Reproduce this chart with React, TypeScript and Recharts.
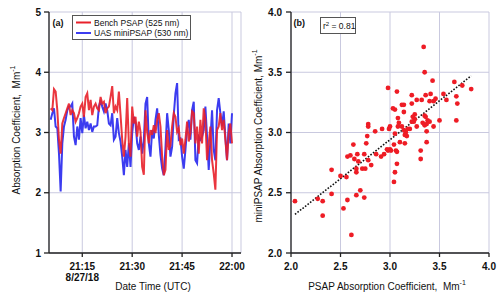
import { LineChart, Line, ScatterChart, Scatter, XAxis, YAxis, CartesianGrid, ReferenceLine } from "recharts"

// minutes after 21:00 UTC, 8/27/18
const minutes = [
  5.5, 6, 6.5, 7, 7.5, 8, 8.5, 9, 9.5, 10, 10.5, 11, 11.5, 12, 12.5, 13, 13.5, 14, 14.5, 15, 15.5, 16, 16.5, 17, 17.5, 18, 18.5, 19, 19.5,
  20, 20.5, 21, 21.5, 22, 22.5, 23, 23.5, 24, 24.5, 25, 25.5, 26, 26.5, 27, 27.5, 28, 28.5, 29, 29.5, 30, 30.5, 31, 31.5, 32, 32.5, 33, 33.5, 34,
  34.5, 35, 35.5, 36, 36.5, 37, 37.5, 38, 38.5, 39, 39.5, 40, 40.5, 41, 41.5, 42, 42.5, 43, 43.5, 44, 44.5, 45, 45.5, 46, 46.5, 47, 47.5, 48, 48.5,
  49, 49.5, 50, 50.5, 51, 51.5, 52, 52.5, 53, 53.5, 54, 54.5, 55, 55.5, 56, 56.5, 57, 57.5, 58, 58.5, 59, 59.5, 60,
]

const benchPsap = [
  3.40, 3.37, 3.72, 3.68, 3.37, 2.88, 2.65, 3.15, 3.24, 3.32, 3.40, 3.48, 3.29, 3.37, 3.32, 3.18, 3.24, 3.32, 3.43, 3.48, 3.26, 3.59, 3.65, 3.37, 3.54, 3.29, 3.43, 3.48, 3.40,
  3.37, 3.59, 3.48, 3.51, 3.32, 3.40, 3.43, 3.59, 3.77, 3.32, 3.43, 3.37, 3.68, 3.29, 2.88, 2.60, 2.93, 3.57, 2.82, 2.60, 3.43, 3.15, 3.26, 2.93, 3.18, 3.01, 2.43, 2.30, 3.37,
  3.01, 2.82, 3.04, 2.96, 3.12, 2.99, 3.21, 3.32, 3.10, 2.60, 2.29, 2.38, 3.04, 2.71, 2.79, 3.10, 3.32, 3.26, 3.01, 3.07, 2.79, 2.90, 2.65, 2.88, 3.18, 2.85, 2.99, 3.35, 3.32,
  2.82, 3.10, 2.65, 3.21, 2.82, 3.40, 3.21, 2.54, 2.82, 3.10, 2.54, 2.32, 2.05, 3.04, 3.10, 3.32, 3.04, 3.21, 2.88, 2.54, 2.99, 3.15, 2.82,
]

const uasMiniPsap = [
  3.21, 3.32, 3.40, 3.10, 3.07, 2.65, 2.02, 2.82, 3.10, 3.21, 3.37, 3.43, 3.43, 3.48, 2.93, 2.79, 3.10, 2.88, 3.24, 2.99, 3.29, 3.07, 3.18, 3.04, 3.15, 3.01, 3.10, 3.10, 3.12,
  3.43, 3.54, 3.43, 3.35, 3.48, 3.37, 3.15, 3.12, 3.32, 2.88, 2.93, 3.24, 2.99, 2.85, 2.60, 2.29, 2.71, 2.43, 2.82, 2.43, 2.99, 3.26, 3.15, 2.82, 2.71, 2.93, 2.65, 2.88, 3.48,
  3.59, 2.82, 2.60, 3.04, 2.90, 3.21, 3.40, 2.96, 2.63, 2.40, 2.29, 2.74, 3.32, 3.04, 2.60, 2.76, 3.29, 3.65, 3.82, 2.88, 2.90, 2.60, 2.40, 2.71, 3.07, 3.21, 2.88, 3.37, 3.51,
  2.54, 2.49, 2.93, 2.88, 2.93, 3.04, 3.43, 2.93, 2.38, 2.88, 3.37, 2.71, 2.54, 3.37, 3.57, 3.32, 3.10, 3.35, 2.93, 2.54, 3.15, 2.82, 3.32,
]

const timeTicks = [15, 30, 45, 60]
const timeTickLabels = ["21:15", "21:30", "21:45", "22:00"]
const dateLabel = "8/27/18"

// panel (b): PSAP vs miniPSAP
const scatterPsap = [
  3.34, 3.35, 3.43, 3.65, 3.73, 3.82, 3.67, 3.68, 3.67, 2.98, 3.07, 3.22, 3.32, 3.27, 3.36, 3.41, 3.40, 3.44, 3.46, 3.54,
  3.57, 3.50, 3.44, 3.37, 3.37, 3.03, 3.05, 3.12, 3.14, 3.22, 3.14, 3.08, 3.09, 3.25, 3.23, 3.25, 3.22, 3.24, 3.35, 3.36,
  3.38, 3.40, 3.33, 3.35, 3.37, 3.00, 2.99, 2.92, 3.08, 3.12, 3.14, 3.16, 3.18, 3.20, 3.05, 3.15, 3.17, 3.10, 3.15, 3.04,
  3.27, 2.78, 2.78, 2.85, 2.77, 2.63, 2.76, 2.04, 2.32, 2.27, 2.32, 2.41, 2.41, 2.50, 2.56, 2.53, 2.57, 2.61, 2.66, 2.70,
  2.74, 2.57, 2.60, 2.67, 2.74, 2.64, 2.66, 2.66, 2.68, 2.72, 2.75, 2.78, 2.81, 2.86, 2.91, 2.94, 2.97, 3.00, 3.06, 3.07,
  3.05, 3.04, 3.31, 3.31, 3.01, 2.98, 3.07,
]
const scatterMini = [
  3.71, 3.50, 3.43, 3.42, 3.39, 3.36, 3.30, 3.24, 3.10, 3.37, 3.34, 3.31, 3.27, 3.27, 3.31, 3.32, 3.26, 3.26, 3.28, 3.32,
  3.27, 3.10, 3.05, 3.01, 2.92, 3.20, 3.19, 3.23, 3.23, 3.24, 3.17, 3.12, 3.08, 3.15, 3.13, 3.11, 3.09, 3.09, 3.14, 3.13,
  3.10, 3.09, 3.08, 3.06, 3.07, 3.05, 3.03, 3.03, 3.05, 3.05, 3.02, 3.00, 3.03, 3.03, 2.99, 2.98, 2.97, 2.92, 2.91, 2.90,
  3.05, 3.07, 3.05, 3.01, 2.97, 2.90, 2.91, 2.43, 2.31, 2.45, 2.43, 2.49, 2.69, 2.64, 2.63, 2.37, 2.44, 2.15, 2.48, 2.52,
  2.46, 2.80, 2.81, 2.82, 2.82, 2.78, 2.70, 2.67, 2.76, 2.70, 2.70, 2.77, 2.73, 2.82, 2.80, 2.82, 2.86, 2.86, 2.85, 2.74,
  2.67, 2.59, 2.78, 2.85, 2.85, 2.85, 2.84,
]
const fitLine = [
  { x: 2.04, y: 2.32 },
  { x: 3.82, y: 3.47 },
]
const absTicks = [2, 2.5, 3, 3.5, 4]

const FONT = "'Liberation Sans', Arial, Helvetica, sans-serif"
const GRID = "#c9c9df"
const AXIS = "#222"
const RED = "#e8202a"
const BLUE = "#3c3cf0"

const timeData = minutes.map((t, i) => ({ t, bench: benchPsap[i], mini: uasMiniPsap[i] }))
const scatterData = scatterPsap.map((x, i) => ({ x, y: scatterMini[i] }))

const TimeTick = (props: any) => {
  const { x, y, payload } = props
  const i = timeTicks.indexOf(payload.value)
  return (
    <g>
      <text x={x} y={y} dy="0.71em" textAnchor="middle" fontSize={10} fontWeight="bold" fontFamily={FONT} fill="#111">
        {timeTickLabels[i]}
      </text>
      {i === 0 && (
        <text x={x} y={y + 11} dy="0.71em" textAnchor="middle" fontSize={10} fontWeight="bold" fontFamily={FONT} fill="#111">
          {dateLabel}
        </text>
      )}
    </g>
  )
}

const tickStyle = { fill: "#111", fontSize: 10, fontWeight: "bold", fontFamily: FONT }

export default function App() {
  return (
    <div style={{ position: "fixed", left: 0, top: 0, width: 500, height: 299, background: "#fff" }}>
      <div style={{ position: "absolute", left: 0, top: 0 }}>
        <LineChart width={250} height={299} data={timeData} margin={{ top: 12, right: 9, left: 0, bottom: 0 }}>
          <CartesianGrid stroke={GRID} strokeWidth={1} />
          <XAxis
            dataKey="t"
            type="number"
            domain={[5, 62.7]}
            ticks={timeTicks}
            allowDataOverflow
            height={46}
            stroke={AXIS}
            strokeWidth={1.3}
            tickSize={4}
            tickMargin={6}
            tick={<TimeTick />}
          />
          <YAxis
            type="number"
            domain={[1, 5]}
            ticks={[1, 2, 3, 4, 5]}
            width={49}
            stroke={AXIS}
            strokeWidth={1.3}
            tickSize={5}
            tickMargin={3}
            tick={tickStyle}
          />
          <Line dataKey="mini" stroke={BLUE} strokeWidth={2} dot={false} isAnimationActive={false} />
          <Line dataKey="bench" stroke={RED} strokeWidth={2} strokeOpacity={0.9} dot={false} isAnimationActive={false} />
        </LineChart>
      </div>
      <div style={{ position: "absolute", left: 250, top: 0 }}>
        <ScatterChart width={250} height={299} margin={{ top: 12, right: 11, left: 0, bottom: 0 }}>
          <CartesianGrid stroke={GRID} strokeWidth={1} />
          <XAxis
            dataKey="x"
            type="number"
            domain={[2, 4]}
            ticks={absTicks}
            height={46}
            stroke={AXIS}
            strokeWidth={1.3}
            tickSize={4}
            tickMargin={6}
            tickFormatter={(v: number) => v.toFixed(1)}
            tick={tickStyle}
          />
          <YAxis
            dataKey="y"
            type="number"
            domain={[2, 4]}
            ticks={absTicks}
            width={41}
            stroke={AXIS}
            strokeWidth={1.3}
            tickSize={5}
            tickMargin={4}
            tickFormatter={(v: number) => v.toFixed(1)}
            tick={tickStyle}
          />
          <ReferenceLine segment={fitLine} stroke="#111" strokeWidth={1.6} strokeDasharray="1.6 1.6" />
          <Scatter data={scatterData} fill="#ee1c25" shape={(p: any) => <circle cx={p.cx} cy={p.cy} r={2.4} fill="#ee1c25" />} isAnimationActive={false} />
        </ScatterChart>
      </div>
      <svg width={500} height={299} style={{ position: "absolute", left: 0, top: 0, pointerEvents: "none" }} fontFamily={FONT}>
        <text x={52.5} y={25.5} fontSize={9} fontWeight="bold" fill="#111">(a)</text>
        <rect x={72.5} y={15.5} width={118} height={24} fill="#fff" stroke="#555" strokeWidth={1} />
        <line x1={76} x2={91} y1={22.5} y2={22.5} stroke={RED} strokeWidth={2} />
        <text x={94} y={25.5} fontSize={8.5} fill="#111">Bench PSAP (525 nm)</text>
        <line x1={76} x2={91} y1={33} y2={33} stroke={BLUE} strokeWidth={2} />
        <text x={94} y={36} fontSize={8.5} fill="#111">UAS miniPSAP (530 nm)</text>

        <text x={293.5} y={25.5} fontSize={9} fontWeight="bold" fill="#111">(b)</text>
        <rect x={320.5} y={17.5} width={35} height={16} fill="#fff" stroke="#555" strokeWidth={1} />
        <text x={323} y={29} fontSize={8.5} fill="#111">
          r<tspan dy={-3.5} fontSize={6}>2</tspan>
          <tspan dy={3.5}> = 0.81</tspan>
        </text>

        <text x={16} y={130} transform="rotate(-90 16 130)" textAnchor="middle" dominantBaseline="central" fontSize={10} fill="#111" style={{ whiteSpace: "pre" }}>
          Absorption Coefficient,  Mm<tspan dy={-4} fontSize={7}>-1</tspan>
        </text>
        <text x={258} y={136} transform="rotate(-90 258 136)" textAnchor="middle" dominantBaseline="central" fontSize={10} fill="#111" style={{ whiteSpace: "pre" }}>
          miniPSAP Absorption Coefficient, Mm<tspan dy={-4} fontSize={7}>-1</tspan>
        </text>
        <text x={153} y={290} textAnchor="middle" fontSize={10} fill="#111">Date Time (UTC)</text>
        <text x={387} y={290} textAnchor="middle" fontSize={10} fill="#111" style={{ whiteSpace: "pre" }}>
          PSAP Absorption Coefficient,  Mm<tspan dy={-5} fontSize={7}>-1</tspan>
        </text>
      </svg>
    </div>
  )
}
